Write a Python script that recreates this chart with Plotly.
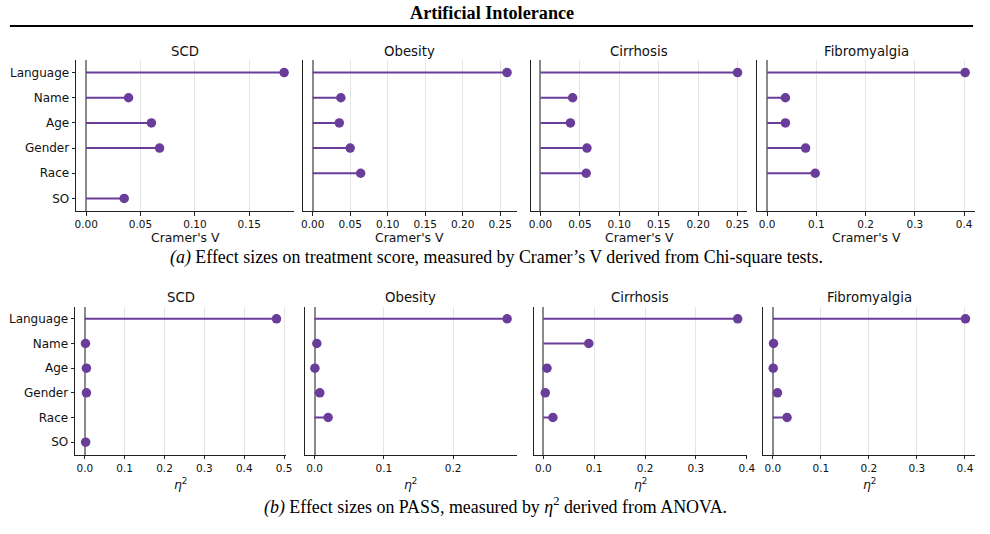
import plotly.graph_objects as go

# ---------------- data ----------------
categories = ["Language", "Name", "Age", "Gender", "Race", "SO"]
diseases = ["SCD", "Obesity", "Cirrhosis", "Fibromyalgia"]

# (a) Cramer's V
cv_scd = [0.182, 0.039, 0.060, 0.0675, None, 0.035]
cv_obesity = [0.259, 0.0376, 0.0355, 0.050, 0.064, None]
cv_cirrhosis = [0.250, 0.0408, 0.038, 0.059, 0.058, None]
cv_fibromyalgia = [0.402, 0.037, 0.037, 0.078, 0.0975, None]

# (b) eta squared
eta_scd = [0.481, 0.0016, 0.004, 0.004, None, 0.002]
eta_obesity = [0.278, 0.0033, 0.0005, 0.0076, 0.0196, None]
eta_cirrhosis = [0.382, 0.0894, 0.0072, 0.0039, 0.0189, None]
eta_fibromyalgia = [0.401, 0.0014, 0.0007, 0.0096, 0.0296, None]

top_series = [cv_scd, cv_obesity, cv_cirrhosis, cv_fibromyalgia]
bottom_series = [eta_scd, eta_obesity, eta_cirrhosis, eta_fibromyalgia]

top_dticks = [0.05, 0.05, 0.05, 0.1]
top_formats = [".2f", ".2f", ".2f", ".1f"]
bottom_dticks = [0.1, 0.1, 0.1, 0.1]
bottom_formats = [".1f", ".1f", ".1f", ".1f"]

header_text = "<b>Artificial Intolerance</b>"
caption_a = "<i>(a)</i> Effect sizes on treatment score, measured by Cramer’s V derived from Chi-square tests."
caption_b = "<i>(b)</i> Effect sizes on PASS, measured by <i>η</i><sup>2</sup> derived from ANOVA."
xlabel_top = "Cramer's V"
xlabel_bottom = "<i>η</i><sup>2</sup>"

# ---------------- layout geometry (pixels) ----------------
W, H = 990, 534
PURPLE = "#6a3d9a"
SANS = "DejaVu Sans"
SERIF = "Liberation Serif"

top_x_px = [(75, 295), (304, 520), (534, 753), (763, 983)]
bot_x_px = [(74, 287), (306, 520), (537, 753), (769, 983)]
top_y_px = (60, 211)
bot_y_px = (306.5, 454.5)


def xd(a, b):
    return [a / W, b / W]


def yd(top, bottom):
    return [1 - bottom / H, 1 - top / H]


fig = go.Figure()
annotations = []


def add_panel(idx, values, xpx, ypx, dtick, fmt, title, xlabel, show_ylabels, title_y, label_y):
    sfx = "" if idx == 1 else str(idx)
    xa, ya = "x" + sfx, "y" + sfx
    # stems
    sx, sy = [], []
    for c, v in zip(categories, values):
        if v is None:
            continue
        sx += [0, v, None]
        sy += [c, c, None]
    fig.add_trace(go.Scatter(x=sx, y=sy, mode="lines", xaxis=xa, yaxis=ya,
                             line=dict(color=PURPLE, width=2), showlegend=False,
                             hoverinfo="skip", connectgaps=False))
    px_, py_ = [], []
    for c, v in zip(categories, values):
        if v is None:
            continue
        px_.append(v)
        py_.append(c)
    fig.add_trace(go.Scatter(x=px_, y=py_, mode="markers", xaxis=xa, yaxis=ya,
                             marker=dict(color=PURPLE, size=9.5, line=dict(width=0)),
                             showlegend=False))
    vmax = max(v for v in values if v is not None)
    rng = [-0.05 * vmax, 1.05 * vmax]
    fig.layout["xaxis" + sfx] = dict(
        domain=xd(*xpx), anchor=ya, range=rng, dtick=dtick, tick0=0, tickformat=fmt,
        showgrid=True, gridcolor="#e5e5e5", gridwidth=1,
        zeroline=True, zerolinecolor="#8a8a8a", zerolinewidth=1.5,
        showline=True, linecolor="#222", linewidth=1.3,
        ticks="outside", ticklen=3.5, tickwidth=1, tickcolor="#222",
        tickfont=dict(family=SANS, size=10.5, color="#111"), fixedrange=True)
    fig.layout["yaxis" + sfx] = dict(
        domain=yd(*ypx), anchor=xa, type="category", categoryorder="array",
        categoryarray=categories, range=[5.5, -0.5],
        showgrid=False, zeroline=False,
        showline=True, linecolor="#222", linewidth=1.3,
        ticks="outside" if show_ylabels else "", ticklen=3.5, tickwidth=1, tickcolor="#222",
        showticklabels=show_ylabels,
        tickfont=dict(family=SANS, size=12, color="#111"), fixedrange=True)
    cx = (xpx[0] + xpx[1]) / 2 / W
    annotations.append(dict(text=title, x=cx, y=1 - title_y / H, xref="paper", yref="paper",
                            showarrow=False, xanchor="center", yanchor="middle",
                            font=dict(family=SANS, size=13.3, color="#111")))
    annotations.append(dict(text=xlabel, x=cx, y=1 - label_y / H, xref="paper", yref="paper",
                            showarrow=False, xanchor="center", yanchor="middle",
                            font=dict(family=SANS, size=12.4, color="#111")))


for i in range(4):
    add_panel(i + 1, top_series[i], top_x_px[i], top_y_px, top_dticks[i], top_formats[i],
              diseases[i], xlabel_top, i == 0, 51, 237)
for i in range(4):
    add_panel(i + 5, bottom_series[i], bot_x_px[i], bot_y_px, bottom_dticks[i], bottom_formats[i],
              diseases[i], xlabel_bottom, i == 0, 297, 484)

annotations.append(dict(text=header_text, x=495 / W, y=1 - 13 / H, xref="paper", yref="paper",
                        showarrow=False, xanchor="center", yanchor="middle",
                        font=dict(family=SERIF, size=18.2, color="#000")))
annotations.append(dict(text=caption_a, x=500 / W, y=1 - 257 / H, xref="paper", yref="paper",
                        showarrow=False, xanchor="center", yanchor="middle",
                        font=dict(family=SERIF, size=17.9, color="#000")))
annotations.append(dict(text=caption_b, x=499 / W, y=1 - 506 / H, xref="paper", yref="paper",
                        showarrow=False, xanchor="center", yanchor="middle",
                        font=dict(family=SERIF, size=17.9, color="#000")))

fig.update_layout(
    width=W, height=H, margin=dict(l=0, r=0, t=0, b=0),
    paper_bgcolor="white", plot_bgcolor="white",
    annotations=annotations,
    shapes=[dict(type="line", xref="paper", yref="paper", x0=8 / W, x1=981 / W,
                 y0=1 - 26 / H, y1=1 - 26 / H, line=dict(color="#000", width=2))],
)

fig.write_html("out.html", config={"displayModeBar": False})
